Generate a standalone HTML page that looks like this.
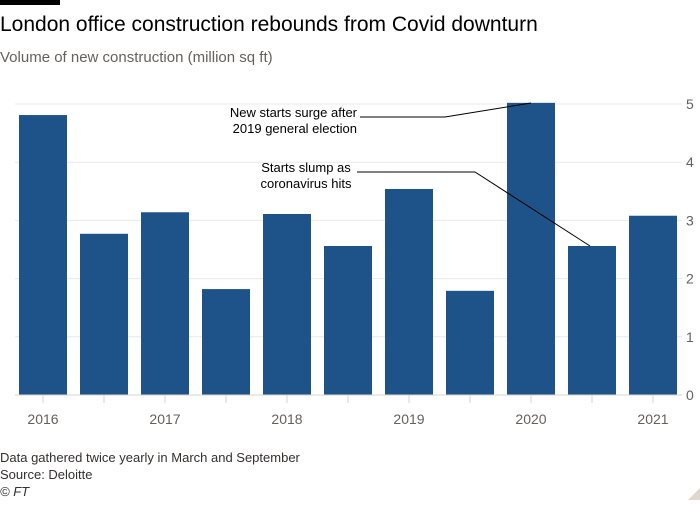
<!DOCTYPE html>
<html><head><meta charset="utf-8"><style>
body{margin:0;background:#fff;font-family:"Liberation Sans",sans-serif;}
svg text{font-family:"Liberation Sans",sans-serif;}
</style></head><body>
<svg width="700" height="500">
<rect x="0" y="0" width="60" height="5" fill="#000"/>
<text x="0" y="31" font-size="21" fill="#000">London office construction rebounds from Covid downturn</text>
<text x="0" y="62" font-size="15" fill="#66605c">Volume of new construction (million sq ft)</text>
<g id="grid"></g><g id="bars"></g><g id="axes"></g>
<g>
<text x="357" y="117" font-size="13" text-anchor="end" fill="#000">New starts surge after</text>
<text x="357" y="133" font-size="13" text-anchor="end" fill="#000">2019 general election</text>
<polyline points="360,117 445,117 531,103" fill="none" stroke="#000" stroke-width="1"/>
</g>
<g>
<text x="306" y="172" font-size="13" text-anchor="middle" fill="#000">Starts slump as</text>
<text x="306" y="188" font-size="13" text-anchor="middle" fill="#000">coronavirus hits</text>
<polyline points="357,172 475,172 590,246" fill="none" stroke="#000" stroke-width="1"/>
</g>
<text x="0" y="462" font-size="13" fill="#33302e">Data gathered twice yearly in March and September</text>
<text x="0" y="479" font-size="13" fill="#33302e">Source: Deloitte</text>
<text x="0" y="496" font-size="13" font-style="italic" fill="#33302e">© FT</text>
<polygon points="700,488 700,500 688,500" fill="#e0d6cc"/>
</svg>
<script>
const categories=["2016-03","2016-09","2017-03","2017-09","2018-03","2018-09","2019-03","2019-09","2020-03","2020-09","2021-03"];
const values=[4.81,2.77,3.14,1.82,3.11,2.56,3.54,1.79,5.02,2.56,3.08];
const xLabels=["2016","","2017","","2018","","2019","","2020","","2021"];
const yTicks=[0,1,2,3,4,5];
const NS="http://www.w3.org/2000/svg";
const y0=395,pu=58.2;
function yS(v){return y0-v*pu;}
function xS(i){return 19+i*61;}
const bw=48;
function mk(t,a,p){const e=document.createElementNS(NS,t);for(const k in a)e.setAttribute(k,a[k]);p.appendChild(e);return e;}
const grid=document.getElementById('grid'),bars=document.getElementById('bars'),axes=document.getElementById('axes');
yTicks.forEach(v=>{
 if(v>0){const l=mk('line',{x1:15,x2:682,y1:yS(v),y2:yS(v),stroke:'#ece8e4','stroke-width':1},grid);
 
 }
 const t=mk('text',{x:686,y:yS(v)+5,'font-size':14,fill:'#66605c'},axes);t.textContent=v;
 
 
});
values.forEach((v,i)=>{
 const r=mk('rect',{x:xS(i),y:yS(v),width:bw,height:v*pu,fill:'#1e538a'},bars);
 
 
 const tk=mk('line',{x1:xS(i)+bw/2,x2:xS(i)+bw/2,y1:y0,y2:y0+8,stroke:'#d8d2cc','stroke-width':1},axes);
 
 
 if(xLabels[i]){const t=mk('text',{x:xS(i)+bw/2,y:424,'font-size':14,fill:'#66605c','text-anchor':'middle'},axes);t.textContent=xLabels[i];
 
 }
});
const ax=mk('line',{x1:15,x2:682,y1:y0,y2:y0,stroke:'#d8d2cc','stroke-width':1},axes);


</script>
</body></html>
